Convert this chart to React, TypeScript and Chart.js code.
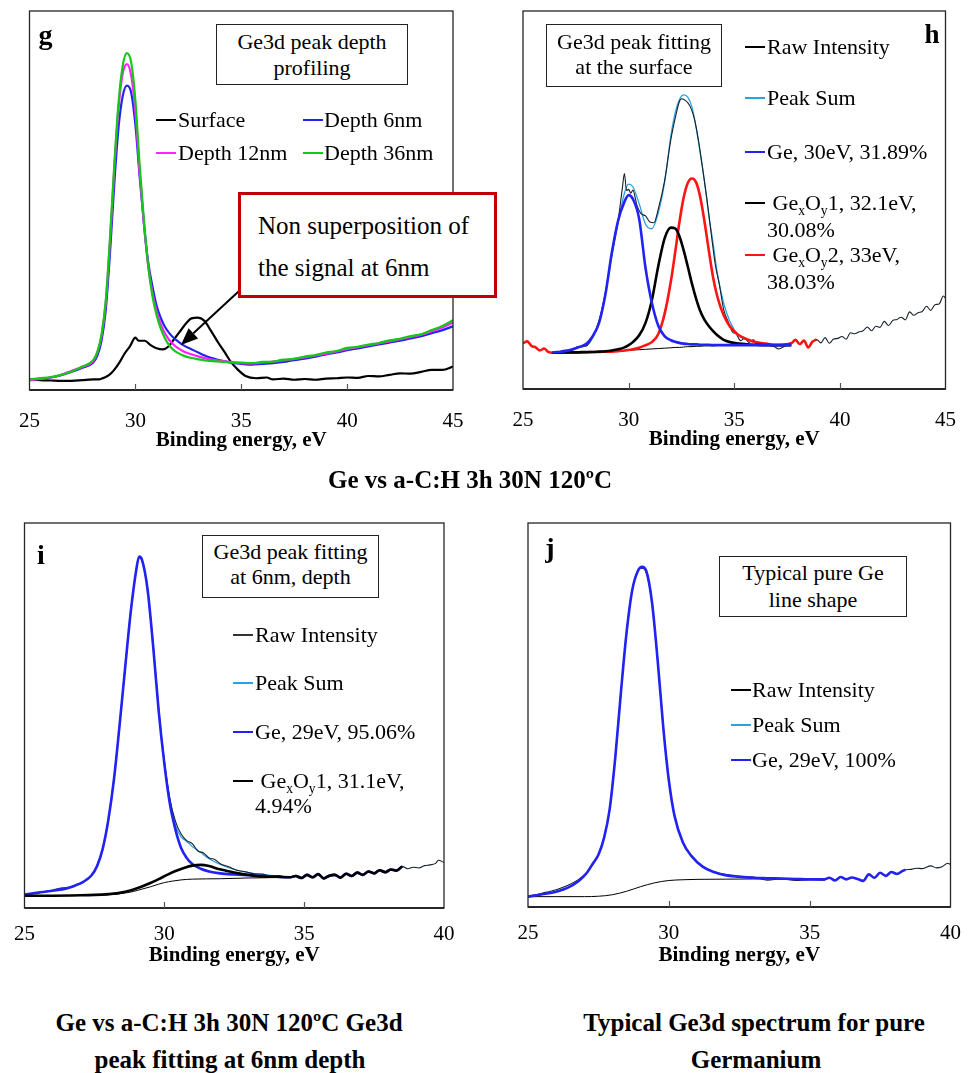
import React, { useEffect, useRef } from 'react';
import { Chart, registerables } from 'chart.js';

Chart.register(...registerables);

const SERIF = '"Liberation Serif", "Times New Roman", Times, serif';

const C_BLUE = '#2222f2';
const C_GREEN = '#14c814';
const C_MAGENTA = '#ff22ff';
const C_RED = '#ff1414';
const C_BLACK = '#000000';
const C_SUM = '#2d9fe3';
const C_RAW = '#15202a';

// ---------------- Panel g : depth profiling ----------------
const gX = [25, 25.5, 26, 26.5, 27, 27.5, 28, 28.2, 28.4, 28.6, 28.8, 29.0, 29.2, 29.4, 29.6, 29.8, 30.0, 30.2, 30.4, 30.6, 30.8, 31.0, 31.2, 31.4, 31.6, 31.8, 32.0, 32.3, 32.6, 33.0, 33.5, 34.0, 34.5, 35.0, 35.5, 36.0, 36.5, 37.0, 37.5, 38.0, 38.5, 39.0, 39.5, 40.0, 40.5, 41.0, 41.5, 42.0, 42.5, 43.0, 43.5, 44.0, 44.5, 45.0];
const gDepth36 = [2.8, 3.1, 3.4, 4.0, 4.9, 6.2, 7.8, 10.0, 14.5, 23.5, 40.0, 59.0, 75.5, 85.5, 88.9, 86.5, 76.4, 59.5, 45.0, 33.0, 25.0, 19.8, 16.2, 13.6, 11.8, 10.6, 9.8, 9.0, 8.5, 8.1, 7.7, 7.5, 7.3, 7.2, 7.1, 7.4, 7.5, 8.0, 8.2, 8.8, 9.2, 9.9, 10.3, 11.1, 11.4, 12.0, 12.4, 13.1, 13.5, 14.2, 14.7, 15.8, 16.9, 18.4];
const gDepth12 = [2.5, 2.9, 3.3, 4.0, 5.1, 6.1, 7.6, 9.8, 14.2, 23.0, 39.0, 58.0, 74.0, 83.5, 86.0, 83.0, 73.5, 57.5, 44.0, 33.0, 25.8, 20.8, 17.4, 14.9, 13.2, 12.0, 11.1, 10.1, 9.5, 8.8, 8.1, 7.7, 7.4, 7.1, 7.0, 7.2, 7.5, 7.8, 8.2, 8.6, 9.1, 9.6, 10.2, 10.8, 11.3, 11.8, 12.3, 12.8, 13.4, 14.0, 14.6, 15.5, 16.5, 17.8];
const gDepth6 = [2.7, 3.0, 3.3, 3.9, 4.8, 5.9, 7.2, 9.0, 13.0, 21.0, 36.0, 54.0, 69.0, 77.5, 80.3, 78.5, 70.0, 56.5, 44.0, 34.0, 27.5, 22.3, 19.0, 16.6, 15.0, 13.8, 12.9, 11.7, 10.9, 9.8, 8.6, 7.8, 7.2, 6.9, 6.7, 6.9, 7.1, 7.4, 7.9, 8.3, 8.8, 9.4, 9.9, 10.5, 11.0, 11.5, 12.0, 12.5, 13.0, 13.6, 14.2, 15.0, 15.8, 16.8];
const gSurfX = [25, 25.5, 26, 26.5, 27, 27.5, 28, 28.3, 28.5, 28.75, 29.0, 29.25, 29.5, 29.75, 30.0, 30.15, 30.45, 30.7, 31.0, 31.3, 31.55, 31.8, 32.1, 32.4, 32.65, 32.95, 33.25, 33.55, 33.9, 34.2, 34.5, 34.85, 35.2, 35.7, 36.2, 36.5, 37, 37.5, 38, 38.5, 39, 39.5, 40, 40.5, 41, 41.5, 42, 42.5, 43, 43.5, 44, 44.5, 45];
const gSurface = [2.8, 2.6, 2.5, 2.4, 2.4, 2.6, 2.8, 2.8, 3.2, 3.9, 5.3, 7.3, 9.7, 11.6, 13.8, 13.0, 13.0, 11.9, 11.0, 10.7, 11.4, 13.2, 15.4, 17.6, 18.9, 19.1, 18.3, 15.8, 12.6, 10.1, 7.5, 5.3, 3.7, 3.1, 3.3, 2.8, 3.0, 2.7, 2.9, 2.7, 3.0, 3.1, 3.3, 3.2, 3.7, 3.6, 4.0, 4.4, 4.3, 4.8, 5.3, 5.3, 6.2];
const gArrow = { x1: 35.05, y1: 26.9, x2: 32.15, y2: 11.9 };

// ---------------- Panel h : fitting at the surface ----------------
const hX = [26.4, 27.0, 27.5, 28.0, 28.3, 28.6, 28.9, 29.2, 29.5, 29.8, 30.0, 30.2, 30.5, 30.8, 31.1, 31.4, 31.7, 32.0, 32.2, 32.4, 32.6, 32.8, 33.0, 33.2, 33.4, 33.6, 33.8, 34.0, 34.2, 34.5, 34.8, 35.2, 35.6, 36.0, 36.5, 37.0, 37.7];
const hBackground = [9.6, 9.6, 9.7, 9.7, 9.8, 9.8, 9.9, 9.9, 10.0, 10.1, 10.2, 10.3, 10.4, 10.5, 10.6, 10.7, 10.8, 10.9, 11.0, 11.0, 11.1, 11.2, 11.2, 11.3, 11.3, 11.4, 11.4, 11.4, 11.5, 11.5, 11.5, 11.5, 11.6, 11.6, 11.6, 11.6, 11.6];
const hGe = [9.7, 10.0, 10.8, 12.0, 14.0, 17.5, 25.0, 35.9, 44.5, 49.5, 51.3, 50.3, 45.0, 32.0, 22.8, 16.8, 14.0, 12.9, 12.5, 12.2, 12.0, 11.9, 11.8, 11.8, 11.7, 11.7, 11.7, 11.6, 11.6, 11.6, 11.6, 11.6, 11.6, 11.6, 11.6, 11.6, 11.6];
const hOx1 = [9.6, 9.7, 9.7, 9.8, 9.8, 9.9, 10.0, 10.2, 10.5, 11.0, 11.6, 12.4, 14.2, 17.5, 23.5, 32.4, 39.8, 42.7, 42.5, 40.5, 36.8, 32.4, 27.8, 23.8, 20.5, 18.2, 16.6, 15.3, 14.2, 13.0, 12.4, 12.0, 11.8, 11.7, 11.6, 11.6, 11.6];
const hOx2 = [9.6, 9.6, 9.7, 9.7, 9.8, 9.8, 9.9, 9.9, 10.0, 10.2, 10.3, 10.5, 10.9, 11.6, 12.4, 14.5, 19.8, 28.5, 36.0, 44.0, 50.5, 54.5, 55.7, 54.6, 50.5, 44.0, 36.5, 29.5, 24.4, 19.5, 16.5, 14.3, 13.2, 12.4, 12.0, 11.6, 12.1];
const hSum = [9.7, 10.1, 10.9, 11.5, 13.5, 18.0, 25.3, 35.0, 43.8, 51.8, 54.2, 53.5, 49.0, 43.6, 42.4, 46.5, 54.5, 67.0, 73.0, 76.5, 77.8, 77.2, 74.5, 69.0, 62.0, 54.5, 45.8, 38.5, 30.6, 22.7, 17.8, 14.2, 12.9, 12.3, 11.9, 11.6, 12.1];
const hOx2LeftX = [25, 25.2, 25.4, 25.6, 25.8, 26.0, 26.2];
const hOx2Left = [12.1, 12.6, 11.4, 11.0, 10.2, 10.7, 9.8];
const hOx2RightX = [37.9, 38.1, 38.3, 38.5, 38.7, 38.9];
const hOx2Right = [13.0, 11.9, 12.8, 11.0, 12.5, 13.1];
const hRawX = [25, 25.2, 25.4, 25.6, 25.8, 26.0, 26.2, 26.4, 26.7, 27.0, 27.3, 27.6, 28.0, 28.3, 28.6, 28.9, 29.2, 29.5, 29.7, 29.8, 29.9, 30.0, 30.1, 30.2, 30.4, 30.6, 30.8, 31.0, 31.2, 31.4, 31.7, 32.0, 32.2, 32.4, 32.5, 32.7, 32.9, 33.1, 33.3, 33.5, 33.7, 33.9, 34.1, 34.3, 34.5, 34.7, 34.9, 35.1, 35.3, 35.5, 35.7, 35.9, 36.1, 36.3, 36.6, 36.9, 37.1, 37.4, 37.7, 37.9, 38.1, 38.3, 38.5, 38.7, 38.9, 39.1, 39.3, 39.5, 39.7, 39.9, 40.1, 40.3, 40.5, 40.7, 40.9, 41.1, 41.3, 41.5, 41.7, 41.9, 42.1, 42.3, 42.5, 42.7, 42.9, 43.1, 43.3, 43.5, 43.7, 43.9, 44.1, 44.3, 44.5, 44.7, 44.9, 45];
const hRaw = [12.1, 12.6, 11.4, 11.0, 10.2, 10.7, 9.8, 9.6, 9.9, 10.3, 10.2, 11.2, 11.4, 13.8, 18.0, 25.5, 35.5, 44.5, 53.0, 57.0, 52.5, 52.8, 51.8, 52.6, 48.5, 46.3, 45.8, 44.2, 44.0, 47.5, 55.0, 66.0, 71.5, 76.0, 76.8, 76.3, 74.9, 71.8, 66.0, 58.5, 50.5, 41.5, 33.0, 27.5, 21.0, 18.0, 15.2, 14.5, 12.8, 13.5, 12.3, 13.0, 11.9, 12.2, 11.6, 11.2, 10.6, 11.4, 12.1, 13.0, 11.9, 12.8, 11.0, 12.5, 13.1, 12.2, 13.6, 12.1, 13.2, 13.4, 13.9, 13.2, 14.9, 14.6, 15.1, 15.4, 16.4, 15.4, 16.6, 16.3, 17.9, 16.8, 18.1, 18.4, 19.0, 18.3, 20.4, 19.5, 20.2, 20.5, 21.9, 20.8, 22.3, 22.5, 24.6, 24.0];

// ---------------- Panel i : fitting at 6 nm ----------------
const iX = [25, 25.5, 26, 26.5, 26.8, 27.1, 27.4, 27.6, 27.8, 28.0, 28.2, 28.4, 28.6, 28.8, 29.0, 29.1, 29.2, 29.4, 29.6, 29.8, 30.0, 30.2, 30.4, 30.6, 30.8, 31.0, 31.3, 31.6, 32.0, 32.5, 33.0, 33.5, 34.0, 34.5];
const iGe = [3.5, 4.0, 4.5, 5.1, 5.8, 6.8, 8.5, 11.0, 15.5, 23.0, 33.5, 47.5, 62.5, 77.0, 88.0, 91.3, 90.5, 82.8, 68.0, 51.0, 37.5, 27.0, 20.3, 15.6, 13.0, 11.4, 10.2, 9.5, 9.0, 8.7, 8.5, 8.3, 8.1, 8.0];
const iSum = [3.5, 4.0, 4.5, 5.1, 5.8, 6.8, 8.5, 11.0, 15.5, 23.0, 33.5, 47.5, 62.5, 77.0, 88.0, 91.3, 90.5, 82.8, 68.2, 51.5, 38.3, 28.2, 21.5, 18.5, 17.3, 16.0, 14.4, 12.8, 11.3, 10.0, 9.2, 8.7, 8.3, 8.1];
const iOxX = [25, 26, 27, 27.5, 28, 28.3, 28.6, 28.9, 29.2, 29.5, 29.8, 30.1, 30.4, 30.7, 31.0, 31.3, 31.6, 31.9, 32.2, 32.5, 32.8, 33.1, 33.5, 34.0, 34.5];
const iOx1 = [3.2, 3.2, 3.3, 3.4, 3.6, 3.8, 4.2, 4.8, 5.6, 6.5, 7.5, 8.6, 9.6, 10.4, 11.0, 11.2, 10.9, 10.2, 9.7, 9.2, 8.8, 8.5, 8.2, 8.1, 8.0];
const iTailX = [34.7, 34.9, 35.1, 35.3, 35.5, 35.7, 35.9, 36.1, 36.3, 36.5, 36.7, 36.9, 37.1, 37.3, 37.5, 37.7, 37.9, 38.1, 38.3, 38.5];
const iTail = [8.3, 7.8, 8.6, 8.0, 8.8, 7.7, 8.4, 8.6, 7.9, 8.9, 8.3, 9.2, 8.6, 9.5, 9.0, 9.8, 9.3, 10.0, 9.7, 10.8];
const iBgX = [25, 27.5, 28.0, 28.3, 28.6, 28.9, 29.2, 29.5, 29.8, 30.0, 30.3, 30.6, 31.0, 32.0, 33.0, 34.0, 34.5];
const iBackground = [3.2, 3.3, 3.4, 3.6, 3.9, 4.3, 4.9, 5.5, 6.2, 6.6, 7.0, 7.3, 7.5, 7.6, 7.8, 7.9, 8.0];
const iRawX = [25, 25.5, 26, 26.3, 26.6, 26.9, 27.1, 27.4, 27.6, 27.8, 28.0, 28.2, 28.4, 28.6, 28.8, 29.0, 29.1, 29.2, 29.4, 29.6, 29.8, 30.0, 30.2, 30.4, 30.6, 30.8, 31.0, 31.2, 31.4, 31.6, 31.8, 32.0, 32.3, 32.6, 32.9, 33.2, 33.5, 33.8, 34.1, 34.4];
const iRaw = [3.5, 4.0, 4.6, 5.2, 5.3, 6.3, 6.6, 8.6, 11.2, 15.5, 23.0, 33.5, 47.5, 62.5, 77.0, 88.0, 91.0, 90.2, 82.8, 68.5, 51.5, 38.0, 28.3, 22.5, 19.2, 17.5, 16.7, 14.8, 14.3, 13.0, 12.6, 11.5, 10.7, 9.8, 9.4, 8.9, 8.8, 8.3, 8.4, 8.0];
const iRawEndX = [38.7, 38.9, 39.1, 39.3, 39.5, 39.7, 39.8, 40.0];
const iRawEnd = [10.2, 10.6, 10.4, 11.0, 11.2, 11.6, 12.4, 11.8];

// ---------------- Panel j : pure germanium ----------------
const jX = [25, 25.5, 26, 26.4, 26.8, 27.1, 27.3, 27.5, 27.7, 27.9, 28.1, 28.3, 28.5, 28.7, 28.9, 29.05, 29.2, 29.4, 29.6, 29.8, 30.0, 30.2, 30.5, 30.8, 31.2, 31.6, 32.0, 32.5, 33.0, 33.5, 34.0, 34.5, 35.0, 35.5];
const jGe = [2.7, 3.3, 4.0, 5.0, 6.8, 9.0, 11.3, 13.6, 18.0, 25.5, 39.0, 56.0, 71.5, 82.5, 87.5, 88.6, 87.5, 79.5, 64.5, 47.0, 33.0, 23.8, 16.8, 13.3, 10.5, 9.1, 8.3, 7.9, 7.6, 7.5, 7.4, 7.3, 7.2, 7.2];
const jRaw = [2.8, 3.6, 4.5, 5.6, 7.2, 9.1, 11.0, 13.5, 18.0, 25.5, 39.0, 56.0, 71.5, 82.5, 87.5, 88.2, 87.0, 79.5, 64.5, 47.0, 33.0, 23.8, 16.8, 13.3, 10.5, 9.2, 8.5, 7.9, 7.8, 7.0, 7.3, 6.9, 7.1, 7.0];
const jTailX = [35.7, 35.9, 36.1, 36.3, 36.5, 36.7, 36.9, 37.1, 37.3, 37.5, 37.7, 37.9, 38.1, 38.3, 38.4];
const jTail = [7.6, 6.9, 7.8, 7.2, 7.7, 7.3, 6.8, 8.5, 7.6, 8.9, 8.1, 9.1, 8.6, 9.4, 9.7];
const jRawEndX = [38.6, 38.8, 39.0, 39.3, 39.5, 39.7, 39.9, 40.0];
const jRawEnd = [9.8, 10.1, 10.0, 10.7, 10.2, 10.5, 11.4, 11.1];
const jBgX = [25, 26, 27, 27.5, 28.0, 28.5, 29.0, 29.5, 30.0, 30.5, 31.0, 32.0, 33.0, 34.0, 35.0, 35.5];
const jBackground = [2.7, 2.7, 2.7, 2.8, 3.2, 4.1, 5.3, 6.3, 6.9, 7.1, 7.2, 7.25, 7.3, 7.3, 7.3, 7.2];

const xTicksTop = ['25', '30', '35', '40', '45'];
const xTicksBottom = ['25', '30', '35', '40'];

// ---------------- helpers ----------------
const cat = (...arrs: number[][]) => ([] as number[]).concat(...arrs);

function line(label: string, x: number[], y: number[], color: string, width: number) {
  return {
    label,
    data: x.map((v, i) => ({ x: v, y: y[i] })),
    borderColor: color,
    backgroundColor: color,
    borderWidth: width,
    pointRadius: 0,
    fill: false,
    cubicInterpolationMode: 'monotone',
  };
}

const framePlugin = {
  id: 'frame',
  afterDatasetsDraw(chart: any, _args: any, opts: any) {
    const { ctx, chartArea: a } = chart;
    const xs = chart.scales.x;
    const ys = chart.scales.y;
    ctx.save();
    ctx.strokeStyle = '#262626';
    ctx.lineWidth = 1.3;
    ctx.strokeRect(a.left, a.top, a.right - a.left, a.bottom - a.top);
    ctx.lineWidth = 2;
    ctx.beginPath();
    ctx.moveTo(a.left, a.bottom);
    ctx.lineTo(a.right, a.bottom);
    ctx.stroke();
    ctx.strokeStyle = '#555';
    ctx.lineWidth = 1.2;
    for (const t of xs.ticks) {
      if (t.value <= xs.min || t.value >= xs.max) continue;
      const px = Math.round(xs.getPixelForValue(t.value)) + 0.5;
      ctx.beginPath();
      ctx.moveTo(px, a.bottom);
      ctx.lineTo(px, a.bottom - 6);
      ctx.stroke();
    }
    if (opts && opts.arrow) {
      const { x1, y1, x2, y2 } = opts.arrow;
      const X1 = xs.getPixelForValue(x1), Y1 = ys.getPixelForValue(y1);
      const X2 = xs.getPixelForValue(x2), Y2 = ys.getPixelForValue(y2);
      const ang = Math.atan2(Y2 - Y1, X2 - X1);
      const hl = 17, hw = 7;
      const bx = X2 - hl * Math.cos(ang), by = Y2 - hl * Math.sin(ang);
      ctx.strokeStyle = '#000';
      ctx.lineWidth = 2;
      ctx.beginPath();
      ctx.moveTo(X1, Y1);
      ctx.lineTo(bx, by);
      ctx.stroke();
      ctx.fillStyle = '#000';
      ctx.beginPath();
      ctx.moveTo(X2, Y2);
      ctx.lineTo(bx + hw * Math.sin(ang), by - hw * Math.cos(ang));
      ctx.lineTo(bx - hw * Math.sin(ang), by + hw * Math.cos(ang));
      ctx.closePath();
      ctx.fill();
    }
    ctx.restore();
  },
};

function ChartPanel(props: any) {
  const { left, top, w, h, pad, xMax, axH, tickPad, title, datasets, arrow, tickLabels } = props;
  const ref = useRef<HTMLCanvasElement>(null);
  useEffect(() => {
    const chart = new Chart(ref.current as HTMLCanvasElement, {
      type: 'line',
      data: { datasets },
      options: {
        responsive: false,
        maintainAspectRatio: false,
        animation: false,
        layout: { padding: pad },
        plugins: {
          legend: { display: false },
          tooltip: { enabled: false },
          frame: { arrow },
        } as any,
        scales: {
          x: {
            type: 'linear',
            min: 25,
            max: xMax,
            grid: { display: false, drawTicks: false },
            border: { display: false },
            ticks: {
              stepSize: 5,
              maxRotation: 0,
              autoSkip: false,
              padding: tickPad,
              color: '#000',
              font: { family: SERIF, size: 21 },
              callback: (v: any) => {
                const s = String(v);
                return tickLabels.includes(s) ? s : '';
              },
            },
            title: {
              display: true,
              text: title,
              color: '#000',
              font: { family: SERIF, size: 21, weight: 'bold' },
              padding: { top: 4, bottom: 4 },
            },
            afterFit: (s: any) => {
              s.height = axH;
            },
          },
          y: { type: 'linear', display: false, min: 0, max: 100 },
        },
      } as any,
      plugins: [framePlugin as any],
    });
    return () => chart.destroy();
  }, []);
  return (
    <div style={{ position: 'absolute', left, top, width: w, height: h }}>
      <canvas ref={ref} width={w} height={h} style={{ width: w, height: h }} />
    </div>
  );
}

function T(props: any) {
  const { x, y, size = 22, bold = false, center = false, children } = props;
  return (
    <div
      style={{
        position: 'absolute',
        left: x,
        top: y - size * 0.6,
        fontFamily: SERIF,
        fontSize: size,
        lineHeight: `${size * 1.2}px`,
        fontWeight: bold ? 'bold' : 'normal',
        whiteSpace: 'nowrap',
        color: '#000',
        transform: center ? 'translateX(-50%)' : undefined,
      }}
    >
      {children}
    </div>
  );
}

function L(props: any) {
  const { x, y, w = 20, t = 2.5, color } = props;
  return <div style={{ position: 'absolute', left: x, top: y - t / 2, width: w, height: t, background: color }} />;
}

function Box(props: any) {
  const { x1, y1, x2, y2, border = '1px solid #222' } = props;
  return (
    <div
      style={{
        position: 'absolute',
        left: x1,
        top: y1,
        width: x2 - x1,
        height: y2 - y1,
        border,
        boxSizing: 'border-box',
        background: '#fff',
      }}
    />
  );
}

const sub = (s: string) => (
  <span style={{ fontSize: '0.62em', position: 'relative', top: '0.38em' }}>{s}</span>
);

export default function App() {
  const gData = [
    line('Depth 36nm', gX, gDepth36, C_GREEN, 2.2),
    line('Depth 12nm', gX, gDepth12, C_MAGENTA, 2.2),
    line('Depth 6nm', gX, gDepth6, C_BLUE, 2.2),
    line('Surface', gSurfX, gSurface, C_BLACK, 2.2),
  ];
  const hData = [
    line('Ge, 30eV, 31.89%', hX, hGe, C_BLUE, 2.6),
    line('GexOy1, 32.1eV, 30.08%', hX, hOx1, C_BLACK, 2.6),
    line('GexOy2, 33eV, 38.03%', cat(hOx2LeftX, hX, hOx2RightX), cat(hOx2Left, hOx2, hOx2Right), C_RED, 2.6),
    line('Raw Intensity', hRawX, hRaw, C_RAW, 1.1),
    line('Peak Sum', hX, hSum, C_SUM, 1.3),
    line('Background', hX, hBackground, C_BLACK, 1),
  ];
  const iData = [
    line('GexOy1, 31.1eV, 4.94%', cat(iOxX, iTailX), cat(iOx1, iTail), C_BLACK, 2.6),
    line('Ge, 29eV, 95.06%', cat(iX, iTailX), cat(iGe, iTail), C_BLUE, 2.6),
    line('Raw Intensity', cat(iRawX, iTailX, iRawEndX), cat(iRaw, iTail, iRawEnd), C_RAW, 1.1),
    line('Peak Sum', iX, iSum, C_SUM, 1.3),
    line('Background', iBgX, iBackground, C_BLACK, 1),
  ];
  const jData = [
    line('Ge, 29eV, 100%', cat(jX, jTailX), cat(jGe, jTail), C_BLUE, 2.6),
    line('Peak Sum', jX, jGe, C_SUM, 1.3),
    line('Raw Intensity', cat(jX, jTailX, jRawEndX), cat(jRaw, jTail, jRawEnd), C_RAW, 1.1),
    line('Background', jBgX, jBackground, C_BLACK, 1),
  ];

  return (
    <div
      style={{
        position: 'absolute',
        left: 0,
        top: 0,
        width: 975,
        height: 1073,
        background: '#fff',
        overflow: 'hidden',
      }}
    >
      <ChartPanel left={0} top={0} w={487} h={470} pad={{ left: 25, top: 11, right: 34, bottom: 13 }} xMax={45} axH={67} tickPad={19} title="Binding energy, eV" datasets={gData} arrow={gArrow} tickLabels={xTicksTop} />
      <ChartPanel left={487} top={0} w={488} h={470} pad={{ left: 36, top: 11, right: 24, bottom: 14 }} xMax={45} axH={67} tickPad={19} title="Binding energy, eV" datasets={hData} tickLabels={xTicksTop} />
      <ChartPanel left={0} top={500} w={487} h={480} pad={{ left: 16, top: 23, right: 43, bottom: 8 }} xMax={40} axH={64} tickPad={14} title="Binding energy, eV" datasets={iData} tickLabels={xTicksBottom} />
      <ChartPanel left={487} top={500} w={488} h={480} pad={{ left: 41, top: 23, right: 21, bottom: 8 }} xMax={40} axH={65} tickPad={14} title="Binding nergy, eV" datasets={jData} tickLabels={xTicksBottom} />

      {/* Panel g overlays */}
      <T x={45.5} y={35} size={28} bold center>g</T>
      <Box x1={216} y1={24} x2={408} y2={85} />
      <T x={312} y={42} center>Ge3d peak depth</T>
      <T x={312} y={68} center>profiling</T>
      <L x={156} y={120} color={C_BLACK} />
      <T x={178} y={120}>Surface</T>
      <L x={303} y={120} color={C_BLUE} />
      <T x={324} y={120}>Depth 6nm</T>
      <L x={156} y={153} color={C_MAGENTA} />
      <T x={178} y={153}>Depth 12nm</T>
      <L x={303} y={153} color={C_GREEN} />
      <T x={324} y={153}>Depth 36nm</T>
      <Box x1={238} y1={192} x2={497} y2={298} border="3px solid #c00000" />
      <T x={258} y={226} size={25}>Non superposition of</T>
      <T x={258} y={268} size={25}>the signal at 6nm</T>

      {/* Panel h overlays */}
      <T x={932} y={34} size={27} bold center>h</T>
      <Box x1={546} y1={24} x2={722} y2={87} />
      <T x={634} y={42} center>Ge3d peak fitting</T>
      <T x={634} y={67} center>at the surface</T>
      <L x={745} y={47} t={1.2} color={C_BLACK} />
      <T x={767} y={47}>Raw Intensity</T>
      <L x={745} y={98} t={1.2} color={C_SUM} />
      <T x={767} y={98}>Peak Sum</T>
      <L x={745} y={152} color={C_BLUE} />
      <T x={767} y={152}>Ge, 30eV, 31.89%</T>
      <L x={745} y={203} color={C_BLACK} />
      <T x={767} y={203}>{'\u00a0'}Ge{sub('x')}O{sub('y')}1, 32.1eV,</T>
      <T x={767} y={230}>30.08%</T>
      <L x={745} y={255} color={C_RED} />
      <T x={767} y={255}>{'\u00a0'}Ge{sub('x')}O{sub('y')}2, 33eV,</T>
      <T x={767} y={282}>38.03%</T>

      {/* Caption top */}
      <T x={470} y={480} size={25} bold center>Ge vs a-C:H 3h 30N 120ºC</T>

      {/* Panel i overlays */}
      <T x={41} y={555} size={28} bold center>i</T>
      <Box x1={202} y1={535} x2={379} y2={598} />
      <T x={290.5} y={552} center>Ge3d peak fitting</T>
      <T x={290.5} y={577} center>at 6nm, depth</T>
      <L x={233} y={635} t={1.2} color="#333" />
      <T x={255} y={635}>Raw Intensity</T>
      <L x={233} y={683} t={1.2} color={C_SUM} />
      <T x={255} y={683}>Peak Sum</T>
      <L x={233} y={732} color={C_BLUE} />
      <T x={255} y={732}>Ge, 29eV, 95.06%</T>
      <L x={233} y={781} color={C_BLACK} />
      <T x={255} y={781}>{'\u00a0'}Ge{sub('x')}O{sub('y')}1, 31.1eV,</T>
      <T x={255} y={806}>4.94%</T>

      {/* Panel j overlays */}
      <T x={550} y={547.5} size={28} bold center>j</T>
      <Box x1={719} y1={556} x2={907} y2={617} />
      <T x={813} y={573} center>Typical pure Ge</T>
      <T x={813} y={600} center>line shape</T>
      <L x={731} y={690} t={1.2} color={C_BLACK} />
      <T x={752} y={690}>Raw Intensity</T>
      <L x={731} y={725} t={1.2} color={C_SUM} />
      <T x={752} y={725}>Peak Sum</T>
      <L x={731} y={760} color={C_BLUE} />
      <T x={752} y={760}>Ge, 29eV, 100%</T>

      {/* Bottom captions */}
      <T x={229} y={1023} size={25} bold center>Ge vs a-C:H 3h 30N 120ºC Ge3d</T>
      <T x={230} y={1060} size={25} bold center>peak fitting at 6nm depth</T>
      <T x={754} y={1023} size={25} bold center>Typical Ge3d spectrum for pure</T>
      <T x={756} y={1060} size={25} bold center>Germanium</T>
    </div>
  );
}
